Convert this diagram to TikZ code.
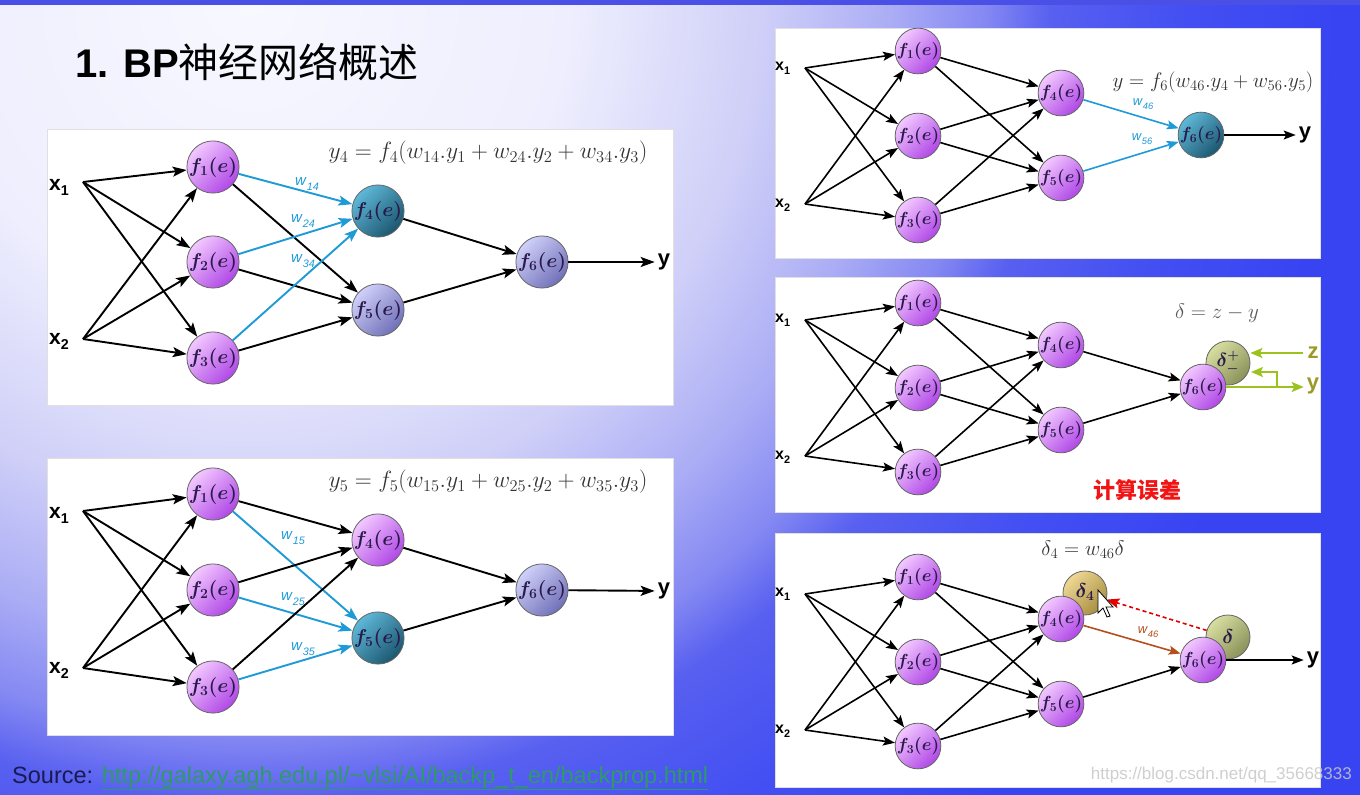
\documentclass[tikz,border=0pt]{standalone}
\usepackage{fix-cm}
\usepackage{graphicx}
\usepackage[no-math]{fontspec}
\setmainfont{Liberation Sans}
\newfontfamily\cjk{Noto Sans CJK SC}
\usetikzlibrary{arrows.meta}
\definecolor{bg0}{HTML}{F8F8FF}
\definecolor{bg1}{HTML}{EEEEFE}
\definecolor{bg2}{HTML}{CFCFF8}
\definecolor{bg3}{HTML}{ABADF5}
\definecolor{bg4}{HTML}{8488F2}
\definecolor{bg5}{HTML}{5860F0}
\definecolor{bg6}{HTML}{4450F2}
\definecolor{bg7}{HTML}{3844F2}
\definecolor{strip}{HTML}{4A50E6}
\definecolor{purpL}{HTML}{F2C8FF}
\definecolor{purpD}{HTML}{B048E6}
\definecolor{tealL}{HTML}{5EB8D8}
\definecolor{tealD}{HTML}{1C5670}
\definecolor{lavL}{HTML}{D0D0FA}
\definecolor{lavD}{HTML}{7070B8}
\definecolor{wblue}{HTML}{1E9BD7}
\definecolor{olL}{HTML}{D8DEA0}
\definecolor{olD}{HTML}{8A925A}
\definecolor{goldL}{HTML}{EED894}
\definecolor{goldD}{HTML}{A88E40}
\definecolor{ygreen}{HTML}{9CC21E}
\definecolor{olivetxt}{HTML}{9C9A26}
\definecolor{wbrown}{HTML}{B4501E}
\definecolor{ntext}{HTML}{2A1A4A}
\definecolor{ftext}{HTML}{333333}
\definecolor{srcc}{HTML}{1A1A50}
\definecolor{urlc}{HTML}{2E9A6A}
\definecolor{redtxt}{HTML}{F01414}
\pgfdeclareradialshading{bgrad}{\pgfpoint{0bp}{0bp}}{%
  color(0bp)=(bg0); color(5bp)=(bg1); color(8bp)=(bg2); color(10bp)=(bg3);
  color(11.5bp)=(bg4); color(12.5bp)=(bg5); color(14.5bp)=(bg6); color(17bp)=(bg7); color(50bp)=(bg7)}
\newcommand\xsub[1]{\textbf{x}\raisebox{-0.28em}{\scalebox{0.68}{\bfseries #1}}}
\newcommand\wsub[1]{\textit{w}\raisebox{-0.3em}{\scalebox{0.72}{\itshape #1}}}
\tikzset{
  neur/.style={circle, draw=black!60, line width=0.8pt, inner sep=0pt, text=ntext},
  bign/.style={neur, minimum size=50pt, font=\fontsize{20}{20}\selectfont\boldmath},
  smalln/.style={neur, minimum size=44pt, font=\fontsize{17.5}{17.5}\selectfont\boldmath},
  pur/.style={top color=purpL, bottom color=purpD, shading angle=45},
  tea/.style={top color=tealL, bottom color=tealD, shading angle=45},
  lav/.style={top color=lavL, bottom color=lavD, shading angle=45},
  oli/.style={top color=olL, bottom color=olD, shading angle=45},
  gol/.style={top color=goldL, bottom color=goldD, shading angle=45},
  arrA/.style={-{Stealth[length=14pt,width=10pt,inset=3pt]}, line width=1.9pt},
  arrS/.style={-{Stealth[length=12pt,width=9pt,inset=2.5pt]}, line width=1.6pt},
  garr/.style={-{Stealth[length=12pt,width=10pt,inset=2.5pt]}, line width=1.8pt, draw=ygreen},
  xlabA/.style={anchor=base west, font=\fontsize{21}{21}\selectfont, inner sep=0pt},
  xlabS/.style={anchor=base west, font=\fontsize{16}{16}\selectfont, inner sep=0pt},
  ylab/.style={font=\fontsize{22}{22}\selectfont\bfseries, inner sep=1pt},
  wlabA/.style={text=wblue, font=\fontsize{15}{15}\selectfont, inner sep=0pt},
  wlabS/.style={text=wblue, font=\fontsize{13}{13}\selectfont, inner sep=0pt},
  formA/.style={text=ftext, font=\fontsize{23.5}{23.5}\selectfont, inner sep=0pt},
  formS/.style={text=ftext, font=\fontsize{21}{21}\selectfont, inner sep=0pt},
  panel/.style={fill=white, draw=black!12, line width=0.6pt},
}
\newcommand\smallnet{%
  \node[xlabS] (x1) at (775,70) {\xsub1};
  \node[xlabS] (x2) at (775,207) {\xsub2};
  \coordinate (p1) at (805,68);
  \coordinate (p2) at (805,204);
  \node[smalln,pur] (f1) at (918,51) {$f_1(e)$};
  \node[smalln,pur] (f2) at (918,136) {$f_2(e)$};
  \node[smalln,pur] (f3) at (918,220) {$f_3(e)$};
  \node[smalln,pur] (f4) at (1061,93) {$f_4(e)$};
  \node[smalln,pur] (f5) at (1061,178) {$f_5(e)$};
  \foreach \s in {p1,p2} \foreach \t in {f1,f2,f3} \draw[arrS] (\s) -- (\t);
  \foreach \s in {f1,f2,f3} \foreach \t in {f4,f5} \draw[arrS] (\s) -- (\t);
}
\begin{document}
\begin{tikzpicture}[x=1pt,y=-1pt]
\useasboundingbox (0,0) rectangle (1360,795);
\begin{scope}
  \clip (0,0) rectangle (1360,795);
  \fill[bg7] (0,0) rectangle (1360,795);
  \shade[shading=bgrad] (250,0) circle (1600);
\end{scope}
\fill[strip] (0,0) rectangle (1360,5);
% panels
\draw[panel] (47,129) rectangle (673,405);
\draw[panel] (47,458) rectangle (673,735);
\draw[panel] (775,28) rectangle (1320,258);
\draw[panel] (775,277) rectangle (1320,512);
\draw[panel] (775,533) rectangle (1320,787);
% title
\node[anchor=west, font=\fontsize{40}{40}\selectfont\bfseries, inner sep=0pt] (title) at (75,62) {1. BP{\cjk\mdseries 神经网络概述}};
% source
\node[anchor=base west, font=\fontsize{23.5}{23.5}\selectfont, inner sep=0pt] (src) at (12,783) {\textcolor{srcc}{Source:} \textcolor{urlc}{\underline{http://galaxy.agh.edu.pl/\textasciitilde vlsi/AI/backp\_t\_en/backprop.html}}};

% ---------- Panel A ----------
\begin{scope}[name prefix=A-]
  \node[xlabA] (x1) at (49,190) {\xsub1};
  \node[xlabA] (x2) at (49,344) {\xsub2};
  \coordinate (p1) at (83,182);
  \coordinate (p2) at (83,339);
  \node[bign,pur] (f1) at (213,167) {$f_1(e)$};
  \node[bign,pur] (f2) at (213,262) {$f_2(e)$};
  \node[bign,pur] (f3) at (213,358) {$f_3(e)$};
  \node[bign,tea] (f4) at (378,211) {$f_4(e)$};
  \node[bign,lav] (f5) at (378,310) {$f_5(e)$};
  \node[bign,lav] (f6) at (542,262) {$f_6(e)$};
  \node[ylab] (y) at (664,262) {y};
  \foreach \s in {p1,p2} \foreach \t in {f1,f2,f3} \draw[arrA] (\s) -- (\t);
  \foreach \s in {f1,f2,f3} {\draw[arrA] (\s) -- (f5); \draw[arrA,wblue] (\s) -- (f4);}
  \draw[arrA] (f4) -- (f6);
  \draw[arrA] (f5) -- (f6);
  \draw[arrA, shorten >=2pt] (f6) -- (y);
  \node[wlabA] (w1) at (307,184) {\wsub{14}};
  \node[wlabA] (w2) at (303,221) {\wsub{24}};
  \node[wlabA] (w3) at (303,261) {\wsub{34}};
  \node[formA] (eq) at (488,153) {$y_4 = f_4(w_{14}.y_1 + w_{24}.y_2 + w_{34}.y_3)$};
\end{scope}

% ---------- Panel B ----------
\begin{scope}[name prefix=B-]
  \node[xlabA] (x1) at (49,518) {\xsub1};
  \node[xlabA] (x2) at (49,673) {\xsub2};
  \coordinate (p1) at (83,511);
  \coordinate (p2) at (83,668);
  \node[bign,pur] (f1) at (213,494) {$f_1(e)$};
  \node[bign,pur] (f2) at (213,590) {$f_2(e)$};
  \node[bign,pur] (f3) at (213,687) {$f_3(e)$};
  \node[bign,pur] (f4) at (378,540) {$f_4(e)$};
  \node[bign,tea] (f5) at (378,638) {$f_5(e)$};
  \node[bign,lav] (f6) at (542,590) {$f_6(e)$};
  \node[ylab] (y) at (664,591) {y};
  \foreach \s in {p1,p2} \foreach \t in {f1,f2,f3} \draw[arrA] (\s) -- (\t);
  \foreach \s in {f1,f2,f3} {\draw[arrA] (\s) -- (f4); \draw[arrA,wblue] (\s) -- (f5);}
  \draw[arrA] (f4) -- (f6);
  \draw[arrA] (f5) -- (f6);
  \draw[arrA, shorten >=2pt] (f6) -- (y);
  \node[wlabA] (w1) at (293,538) {\wsub{15}};
  \node[wlabA] (w2) at (293,599) {\wsub{25}};
  \node[wlabA] (w3) at (303,649) {\wsub{35}};
  \node[formA] (eq) at (488,482) {$y_5 = f_5(w_{15}.y_1 + w_{25}.y_2 + w_{35}.y_3)$};
\end{scope}

% ---------- Panel C ----------
\begin{scope}[name prefix=C-]
  \smallnet
  \node[smalln,tea] (f6) at (1201,135) {$f_6(e)$};
  \node[ylab] (y) at (1305,135) {y};
  \draw[arrS,wblue] (f4) -- (f6);
  \draw[arrS,wblue] (f5) -- (f6);
  \draw[arrS, shorten >=2pt] (f6) -- (y);
  \node[wlabS] (w1) at (1143,104) {\wsub{46}};
  \node[wlabS] (w2) at (1142,139) {\wsub{56}};
  \node[formS] (eq) at (1213,82) {$y = f_6(w_{46}.y_4 + w_{56}.y_5)$};
\end{scope}

% ---------- Panel D ----------
\begin{scope}[name prefix=D-, shift={(0,252)}]
  \node[smalln,oli,font=\fontsize{19}{19}\selectfont\boldmath] (dl) at (1228,111) {\raisebox{6pt}{$\delta^{+}_{-}$}\hspace{2pt}};
  \smallnet
  \node[smalln,pur] (f6) at (1203,135) {$f_6(e)$};
  \draw[arrS] (f4) -- (f6);
  \draw[arrS] (f5) -- (f6);
  \node[ylab,text=olivetxt] (z) at (1313,101) {z};
  \node[ylab,text=olivetxt] (y) at (1313,134) {y};
  \draw[garr, shorten <=3pt] (z.west) -- (z.west -| dl.east);
  \draw[garr, shorten >=2pt] (f6.east) -- (y.west |- f6.east);
  \coordinate (br) at (1277,135);
  \coordinate (bt) at (1251,120);
  \draw[garr] (br) |- (bt);
  \node[formS, text=black!65] (eq) at (1217,61) {$\delta = z - y$};
  \node[font=\fontsize{22}{22}\selectfont\bfseries, text=redtxt, inner sep=0pt] (err) at (1137,238) {\cjk\bfseries 计算误差};
\end{scope}

% ---------- Panel E ----------
\begin{scope}[name prefix=E-, shift={(0,526)}]
  \node[smalln,gol,font=\fontsize{20}{20}\selectfont\boldmath] (d4) at (1085,67) {\raisebox{5pt}{$\delta_4$}};
  \node[smalln,oli,font=\fontsize{20}{20}\selectfont\boldmath] (dE) at (1228,111) {$\delta$};
  \smallnet
  \node[smalln,pur] (f6) at (1203,134) {$f_6(e)$};
  \node[ylab] (y) at (1313,134) {y};
  \draw[arrS,wbrown] (f4) -- (f6);
  \draw[arrS] (f5) -- (f6);
  \draw[arrS, shorten >=2pt] (f6) -- (y);
  \node[wlabS, text=wbrown] (w1) at (1148,106) {\wsub{46}};
  \draw[-{Stealth[length=13pt,width=10pt,inset=2.5pt]}, line width=1.6pt, red!90!black, dash pattern=on 4pt off 3pt] (dE) -- (d4);
  \node[formS] (eq) at (1083,24) {$\delta_4 = w_{46}\delta$};
  \filldraw[fill=white, draw=black, line width=0.8pt] (1098,64) -- (1098,87) -- (1103,82) -- (1107,91) -- (1110,90) -- (1106,81) -- (1113,81) -- cycle;
\end{scope}

% watermark
\node[anchor=east, text=black!22, font=\fontsize{17}{17}\selectfont, inner sep=0pt, opacity=0.85] (wm) at (1352,775) {https://blog.csdn.net/qq\_35668333};
\end{tikzpicture}
\end{document}
